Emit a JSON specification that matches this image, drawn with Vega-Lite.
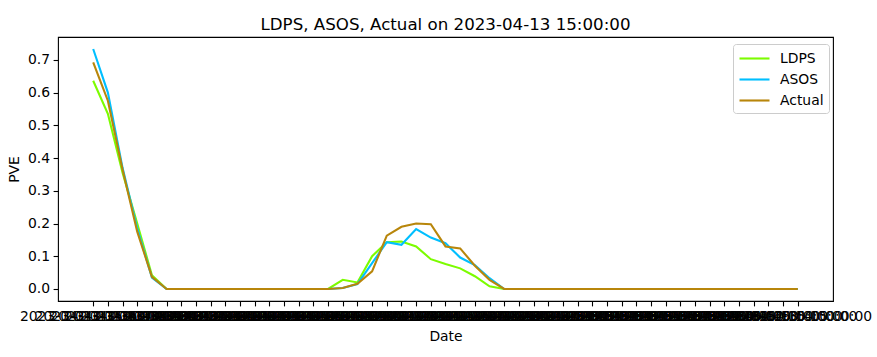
{
  "$schema": "https://vega.github.io/schema/vega-lite/v6.json",
  "width": 775,
  "height": 264,
  "autosize": {"type": "none"},
  "padding": {"left": 58, "top": 37, "right": 44, "bottom": 56},
  "background": "white",
  "title": {"text": "LDPS, ASOS, Actual on 2023-04-13 15:00:00", "fontSize": 16.67, "font": "DejaVu Sans", "fontWeight": "normal", "color": "black", "offset": 3, "anchor": "middle"},
  "config": {
    "font": "DejaVu Sans",
    "view": {"stroke": "black", "strokeWidth": 1.1},
    "axis": {"domain": false, "grid": false, "tickColor": "black", "tickSize": 4.9, "tickWidth": 1.1, "labelColor": "black", "labelFontSize": 13.9, "labelFont": "DejaVu Sans", "labelPadding": 3.5, "titleFontSize": 13.9, "titleFont": "DejaVu Sans", "titleFontWeight": "normal", "titleColor": "black"}
  },
  "data": {"values": [
    {"date": "2023-04-13 15:00:00", "LDPS": 0.636, "ASOS": 0.733, "Actual": 0.692},
    {"date": "2023-04-13 16:00:00", "LDPS": 0.535, "ASOS": 0.600, "Actual": 0.575},
    {"date": "2023-04-13 17:00:00", "LDPS": 0.355, "ASOS": 0.370, "Actual": 0.365},
    {"date": "2023-04-13 18:00:00", "LDPS": 0.200, "ASOS": 0.185, "Actual": 0.175},
    {"date": "2023-04-13 19:00:00", "LDPS": 0.042, "ASOS": 0.035, "Actual": 0.037},
    {"date": "2023-04-13 20:00:00", "LDPS": 0, "ASOS": 0, "Actual": 0},
    {"date": "2023-04-13 21:00:00", "LDPS": 0, "ASOS": 0, "Actual": 0},
    {"date": "2023-04-13 22:00:00", "LDPS": 0, "ASOS": 0, "Actual": 0},
    {"date": "2023-04-13 23:00:00", "LDPS": 0, "ASOS": 0, "Actual": 0},
    {"date": "2023-04-14 00:00:00", "LDPS": 0, "ASOS": 0, "Actual": 0},
    {"date": "2023-04-14 01:00:00", "LDPS": 0, "ASOS": 0, "Actual": 0},
    {"date": "2023-04-14 02:00:00", "LDPS": 0, "ASOS": 0, "Actual": 0},
    {"date": "2023-04-14 03:00:00", "LDPS": 0, "ASOS": 0, "Actual": 0},
    {"date": "2023-04-14 04:00:00", "LDPS": 0, "ASOS": 0, "Actual": 0},
    {"date": "2023-04-14 05:00:00", "LDPS": 0, "ASOS": 0, "Actual": 0},
    {"date": "2023-04-14 06:00:00", "LDPS": 0, "ASOS": 0, "Actual": 0},
    {"date": "2023-04-14 07:00:00", "LDPS": 0, "ASOS": 0, "Actual": 0},
    {"date": "2023-04-14 08:00:00", "LDPS": 0.028, "ASOS": 0.003, "Actual": 0.003},
    {"date": "2023-04-14 09:00:00", "LDPS": 0.020, "ASOS": 0.015, "Actual": 0.016},
    {"date": "2023-04-14 10:00:00", "LDPS": 0.100, "ASOS": 0.079, "Actual": 0.054},
    {"date": "2023-04-14 11:00:00", "LDPS": 0.143, "ASOS": 0.143, "Actual": 0.163},
    {"date": "2023-04-14 12:00:00", "LDPS": 0.145, "ASOS": 0.135, "Actual": 0.190},
    {"date": "2023-04-14 13:00:00", "LDPS": 0.130, "ASOS": 0.183, "Actual": 0.200},
    {"date": "2023-04-14 14:00:00", "LDPS": 0.091, "ASOS": 0.157, "Actual": 0.198},
    {"date": "2023-04-14 15:00:00", "LDPS": 0.076, "ASOS": 0.140, "Actual": 0.130},
    {"date": "2023-04-14 16:00:00", "LDPS": 0.063, "ASOS": 0.096, "Actual": 0.124},
    {"date": "2023-04-14 17:00:00", "LDPS": 0.039, "ASOS": 0.073, "Actual": 0.071},
    {"date": "2023-04-14 18:00:00", "LDPS": 0.008, "ASOS": 0.033, "Actual": 0.028},
    {"date": "2023-04-14 19:00:00", "LDPS": 0, "ASOS": 0, "Actual": 0},
    {"date": "2023-04-14 20:00:00", "LDPS": 0, "ASOS": 0, "Actual": 0},
    {"date": "2023-04-14 21:00:00", "LDPS": 0, "ASOS": 0, "Actual": 0},
    {"date": "2023-04-14 22:00:00", "LDPS": 0, "ASOS": 0, "Actual": 0},
    {"date": "2023-04-14 23:00:00", "LDPS": 0, "ASOS": 0, "Actual": 0},
    {"date": "2023-04-15 00:00:00", "LDPS": 0, "ASOS": 0, "Actual": 0},
    {"date": "2023-04-15 01:00:00", "LDPS": 0, "ASOS": 0, "Actual": 0},
    {"date": "2023-04-15 02:00:00", "LDPS": 0, "ASOS": 0, "Actual": 0},
    {"date": "2023-04-15 03:00:00", "LDPS": 0, "ASOS": 0, "Actual": 0},
    {"date": "2023-04-15 04:00:00", "LDPS": 0, "ASOS": 0, "Actual": 0},
    {"date": "2023-04-15 05:00:00", "LDPS": 0, "ASOS": 0, "Actual": 0},
    {"date": "2023-04-15 06:00:00", "LDPS": 0, "ASOS": 0, "Actual": 0},
    {"date": "2023-04-15 07:00:00", "LDPS": 0, "ASOS": 0, "Actual": 0},
    {"date": "2023-04-15 08:00:00", "LDPS": 0, "ASOS": 0, "Actual": 0},
    {"date": "2023-04-15 09:00:00", "LDPS": 0, "ASOS": 0, "Actual": 0},
    {"date": "2023-04-15 10:00:00", "LDPS": 0, "ASOS": 0, "Actual": 0},
    {"date": "2023-04-15 11:00:00", "LDPS": 0, "ASOS": 0, "Actual": 0},
    {"date": "2023-04-15 12:00:00", "LDPS": 0, "ASOS": 0, "Actual": 0},
    {"date": "2023-04-15 13:00:00", "LDPS": 0, "ASOS": 0, "Actual": 0},
    {"date": "2023-04-15 14:00:00", "LDPS": 0, "ASOS": 0, "Actual": 0},
    {"date": "2023-04-15 15:00:00", "LDPS": 0, "ASOS": 0, "Actual": 0}
  ]},
  "transform": [{"fold": ["LDPS", "ASOS", "Actual"], "as": ["series", "value"]}],
  "mark": {"type": "line", "strokeWidth": 2.1},
  "encoding": {
    "x": {"field": "date", "type": "ordinal", "sort": null, "title": "Date",
          "scale": {"type": "point", "range": [35.2, 739.8], "padding": 0},
          "axis": {"labelAngle": 0, "labelOverlap": false, "labelBound": false, "labelFlush": false, "titlePadding": 6}},
    "y": {"field": "value", "type": "quantitative", "title": "PVE",
          "scale": {"domain": [-0.0367, 0.7697], "nice": false, "zero": false},
          "axis": {"values": [0, 0.1, 0.2, 0.3, 0.4, 0.5, 0.6, 0.7], "format": ".1f", "titlePadding": 6}},
    "color": {"field": "series", "type": "nominal",
              "scale": {"domain": ["LDPS", "ASOS", "Actual"], "range": ["#7CFC00", "#00BFFF", "#B8860B"]},
              "legend": {"title": null, "orient": "none", "legendX": 675, "legendY": 7,
                         "symbolType": "M-1,0H2.75", "symbolStrokeWidth": 2.1, "symbolSize": 256,
                         "labelFontSize": 13.9, "labelFont": "DejaVu Sans", "labelColor": "black", "labelOffset": 23,
                         "rowPadding": 4, "padding": 5, "strokeColor": "#cccccc", "fillColor": "white", "cornerRadius": 3}}
  }
}
